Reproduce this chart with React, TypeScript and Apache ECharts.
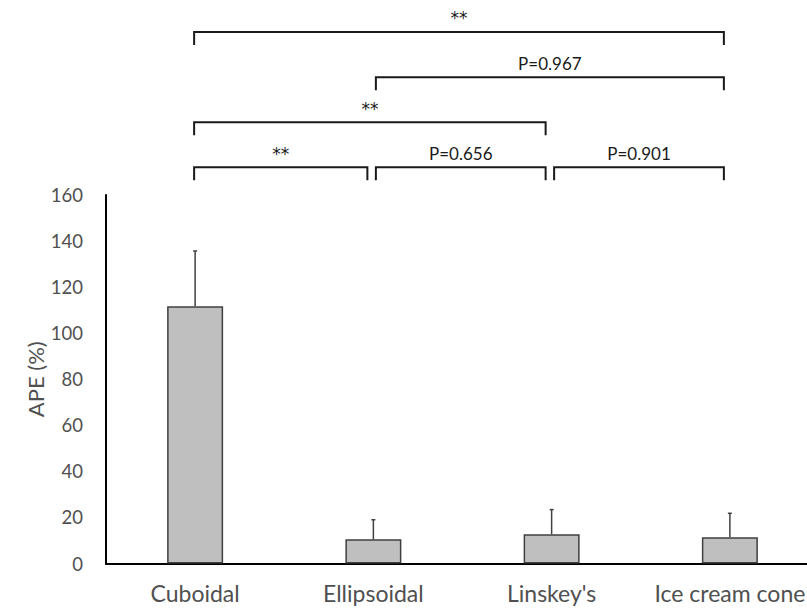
import React, { useEffect, useRef } from "react";
import * as echarts from "echarts";

const categories = ["Cuboidal", "Ellipsoidal", "Linskey's", "Ice cream cone"];
const apeMean = [111.7, 10.5, 12.7, 11.4];
const apeSD = [24.0, 8.5, 10.7, 10.4];

const bracketFrom = [0, 1, 2, 0, 1, 0];
const bracketTo = [1, 2, 3, 2, 3, 3];
const bracketLevel = [172.0, 172.0, 172.0, 191.6, 211.1, 230.8];
const bracketLabel = ["**", "P=0.656", "P=0.901", "**", "P=0.967", "**"];

const FONT = "Lato, 'Noto Sans', sans-serif";

export default function App() {
  const ref = useRef<HTMLDivElement>(null);
  useEffect(() => {
    if (!ref.current) return;
    const chart = echarts.init(ref.current, undefined, { renderer: "svg" });
    const option: any = {
      animation: false,
      backgroundColor: "#ffffff",
      grid: { left: 106, width: 713, top: 195, bottom: 49.5, containLabel: false, outerBoundsMode: "none" },
      xAxis: {
        type: "category",
        data: categories,
        axisLine: { show: true, lineStyle: { color: "#000000", width: 2 } },
        axisTick: { show: false },
        axisLabel: { color: "#505050", fontSize: 23, fontFamily: FONT, margin: 18, interval: 0 },
      },
      yAxis: {
        type: "value",
        min: 0,
        max: 160,
        interval: 20,
        name: "APE (%)",
        nameLocation: "middle",
        nameGap: 60,
        nameMoveOverlap: false,
        nameTextStyle: { color: "#505050", fontSize: 22, fontFamily: FONT },
        axisLine: { show: true, lineStyle: { color: "#000000", width: 2 } },
        axisTick: { show: false },
        splitLine: { show: false },
        axisLabel: { color: "#505050", fontSize: 18.5, fontFamily: FONT, margin: 23 },
      },
      series: [
        {
          type: "bar",
          data: apeMean,
          barWidth: 56,
          itemStyle: { color: "#bfbfbf", borderColor: "#404040", borderWidth: 1.5 },
        },
        {
          type: "custom",
          data: apeMean.map((m, i) => [i, m, apeSD[i]]),
          encode: { x: 0, y: 1 },
          renderItem: (params: any, api: any) => {
            const i = api.value(0);
            const m = api.value(1);
            const e = api.value(2);
            const p0 = api.coord([i, m]);
            const p1 = api.coord([i, m + e]);
            const st = { stroke: "#404040", lineWidth: 1.5 };
            return {
              type: "group",
              children: [
                { type: "line", shape: { x1: p0[0], y1: p0[1], x2: p1[0], y2: p1[1] }, style: st },
                { type: "line", shape: { x1: p1[0] - 2, y1: p1[1], x2: p1[0] + 2, y2: p1[1] }, style: st },
              ],
            };
          },
          z: 3,
        },
        {
          type: "custom",
          clip: false,
          data: bracketFrom.map((f, k) => [f, bracketTo[k], bracketLevel[k]]),
          encode: { x: [0, 1], y: 2 },
          renderItem: (params: any, api: any) => {
            const f = api.value(0);
            const t = api.value(1);
            const lv = api.value(2);
            const a = api.coord([f, lv]);
            const b = api.coord([t, lv]);
            const x1 = a[0] + (f === 0 ? -1 : 2.5);
            const x2 = b[0] - 6;
            const y = a[1];
            const label = bracketLabel[params.dataIndex];
            const isStar = label.indexOf("*") >= 0;
            return {
              type: "group",
              children: [
                {
                  type: "polyline",
                  shape: { points: [[x1, y + 13], [x1, y], [x2, y], [x2, y + 13]] },
                  style: { stroke: "#1a1a1a", lineWidth: 2, fill: "none" },
                },
                {
                  type: "text",
                  style: {
                    x: (x1 + x2) / 2,
                    y: y - 5,
                    text: label,
                    fill: "#1a1a1a",
                    font: isStar ? "17px 'DejaVu Sans', sans-serif" : "17px " + FONT,
                    align: "center",
                    verticalAlign: "bottom",
                    textAlign: "center",
                    textVerticalAlign: "bottom",
                  },
                },
              ],
            };
          },
          z: 4,
        },
      ],
    };
    chart.setOption(option);
    return () => chart.dispose();
  }, []);
  return (
    <div
      style={{ position: "absolute", left: 0, top: 0, width: 807, height: 613, overflow: "hidden", background: "#fff" }}
    >
      <div ref={ref} style={{ width: 840, height: 613 }} />
    </div>
  );
}
